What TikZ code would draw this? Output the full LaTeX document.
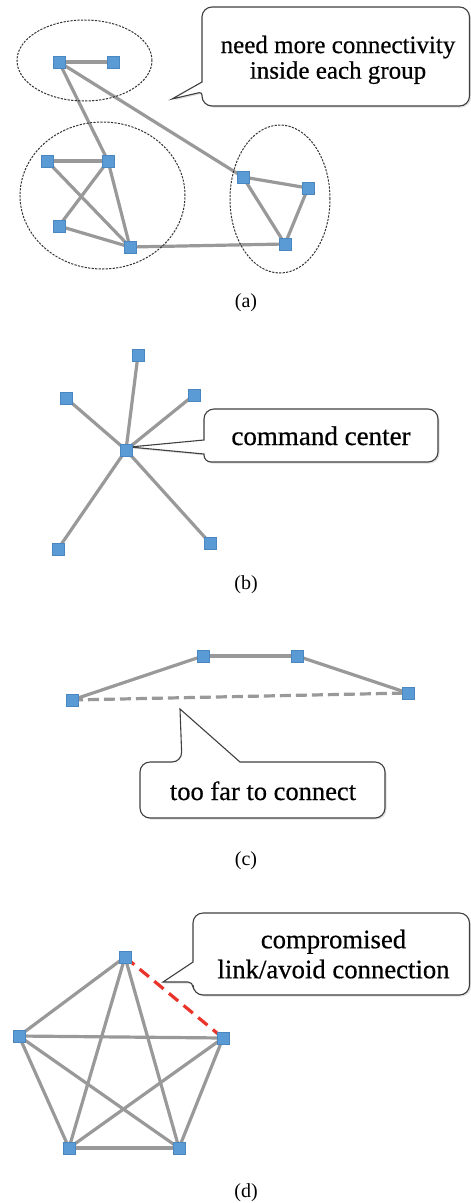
\documentclass[tikz,border=0pt]{standalone}
\usepackage{fontspec}
\setmainfont{Liberation Serif}
\newfontfamily\callfont[FakeBold=0.5]{Liberation Serif}
\usetikzlibrary{shadows,backgrounds}
\definecolor{nodeblue}{HTML}{5B9BD5}
\definecolor{nodeedge}{HTML}{4A86C0}
\definecolor{linkgray}{HTML}{999999}
\definecolor{badred}{HTML}{E8342A}
\definecolor{boxline}{HTML}{404040}
\tikzset{
  sq/.style={rectangle, fill=nodeblue, draw=nodeedge, line width=0.4pt, minimum size=12.5pt, inner sep=0pt},
  link/.style={draw=linkgray, line width=3.2pt},
  dlink/.style={link, dash pattern=on 11pt off 5pt},
  redlink/.style={draw=badred, line width=3.2pt, dash pattern=on 12pt off 7pt},
  group/.style={draw=black!80, line width=1pt, dash pattern=on 2.2pt off 1.3pt},
  callout/.style={draw=boxline, line width=1.1pt, fill=white, drop shadow={opacity=0.25, shadow xshift=1.5pt, shadow yshift=-1.5pt}},
  calltext/.style={inner sep=0pt, align=center},
  caption/.style={inner sep=0pt, font=\fontsize{20}{22}\selectfont},
}
\begin{document}
\begin{tikzpicture}[x=1pt, y=-1pt]
\useasboundingbox (0,0) rectangle (471,1203);

% ---------------- (a) ----------------
\draw[group] (84.5,60.5) ellipse [x radius=67.5pt, y radius=40.5pt];
\draw[group] (102.5,195.5) ellipse [x radius=82.5pt, y radius=73.5pt];
\draw[group] (280,199) ellipse [x radius=50pt, y radius=74pt];

\path[callout] (172,99) -- (202,82) [rounded corners=10pt] -- (202,7) -- (469.5,7) -- (469.5,106) -- (202,106) [rounded corners=3pt] -- (202,92) [sharp corners] -- cycle;
\node[calltext, font=\callfont\fontsize{25}{25.6}\selectfont, anchor=north] (ta) at (338,35.5) {need more connectivity\\inside each group};

\node[sq] (A1) at (59,62) {};
\node[sq] (A2) at (113,62) {};
\node[sq] (L1) at (47,161) {};
\node[sq] (L2) at (108,161) {};
\node[sq] (L3) at (59,226) {};
\node[sq] (L4) at (130,247) {};
\node[sq] (R1) at (243,177) {};
\node[sq] (R2) at (308,188) {};
\node[sq] (R3) at (285,244) {};
\begin{pgfonlayer}{background}
\draw[link] (A1.center) -- (A2.center);
\draw[link] (A1.center) -- (L2.center);
\draw[link] (A1.center) -- (R1.center);
\draw[link] (L1.center) -- (L2.center);
\draw[link] (L1.center) -- (L4.center);
\draw[link] (L2.center) -- (L3.center);
\draw[link] (L2.center) -- (L4.center);
\draw[link] (L3.center) -- (L4.center);
\draw[link] (L4.center) -- (R3.center);
\draw[link] (R1.center) -- (R2.center);
\draw[link] (R1.center) -- (R3.center);
\draw[link] (R2.center) -- (R3.center);
\end{pgfonlayer}
\node[caption] (capa) at (246,303) {(a)};

% ---------------- (b) ----------------
\path[callout] (130,447) -- (204,440) [rounded corners=10pt] -- (204,409) -- (438,409) -- (438,462) [rounded corners=7pt] -- (204,462) [sharp corners] -- (204,454) -- cycle;
\node[calltext, font=\callfont\fontsize{27}{30}\selectfont, anchor=base] (tb) at (321,445) {command center};

\node[sq] (B0) at (126,450) {};
\node[sq] (B1) at (138,355) {};
\node[sq] (B2) at (66,398) {};
\node[sq] (B3) at (194,395) {};
\node[sq] (B4) at (58,549) {};
\node[sq] (B5) at (210,543) {};
\begin{pgfonlayer}{background}
\foreach \n in {B1,B2,B3,B4,B5} \draw[link] (B0.center) -- (\n.center);
\end{pgfonlayer}
\node[caption] (capb) at (246,585) {(b)};

% ---------------- (c) ----------------
\path[callout] (260,762) [rounded corners=10pt] -- (385,762) -- (385,818) -- (140,818) -- (140,762) -- (182,762) [sharp corners] -- (180,709) -- (240,762) -- cycle;
\node[calltext, font=\callfont\fontsize{26.5}{30}\selectfont, anchor=base] (tc) at (263,800) {too far to connect};

\node[sq] (P1) at (72,700) {};
\node[sq] (P2) at (203,656) {};
\node[sq] (P3) at (297,656) {};
\node[sq] (P4) at (408,693) {};
\begin{pgfonlayer}{background}
\draw[link] (P1.center) -- (P2.center);
\draw[link] (P2.center) -- (P3.center);
\draw[link] (P3.center) -- (P4.center);
\draw[dlink] (P1.center) -- (P4.center);
\end{pgfonlayer}
\node[caption] (capc) at (246,861) {(c)};

% ---------------- (d) ----------------
\path[callout] (163,982) -- (193,962) [rounded corners=10pt] -- (193,913) -- (469.5,913) -- (469.5,995) -- (193,995) [rounded corners=5pt] -- (193,982) [sharp corners] -- cycle;
\node[calltext, font=\callfont\fontsize{26.7}{30}\selectfont, anchor=north] (td) at (333.5,929.5) {compromised\\link/avoid connection};

\node[sq] (T) at (125,957) {};
\node[sq] (PL) at (19,1036) {};
\node[sq] (PR) at (223,1038) {};
\node[sq] (BL) at (69,1148) {};
\node[sq] (BR) at (179,1148) {};
\begin{pgfonlayer}{background}
\draw[link] (T.center) -- (PL.center);
\draw[link] (T.center) -- (BL.center);
\draw[link] (T.center) -- (BR.center);
\draw[link] (PL.center) -- (PR.center);
\draw[link] (PL.center) -- (BL.center);
\draw[link] (PL.center) -- (BR.center);
\draw[link] (PR.center) -- (BL.center);
\draw[link] (PR.center) -- (BR.center);
\draw[link] (BL.center) -- (BR.center);
\draw[redlink] (T.center) -- (PR.center);
\end{pgfonlayer}
\node[caption] (capd) at (246,1193) {(d)};
\end{tikzpicture}
\end{document}
